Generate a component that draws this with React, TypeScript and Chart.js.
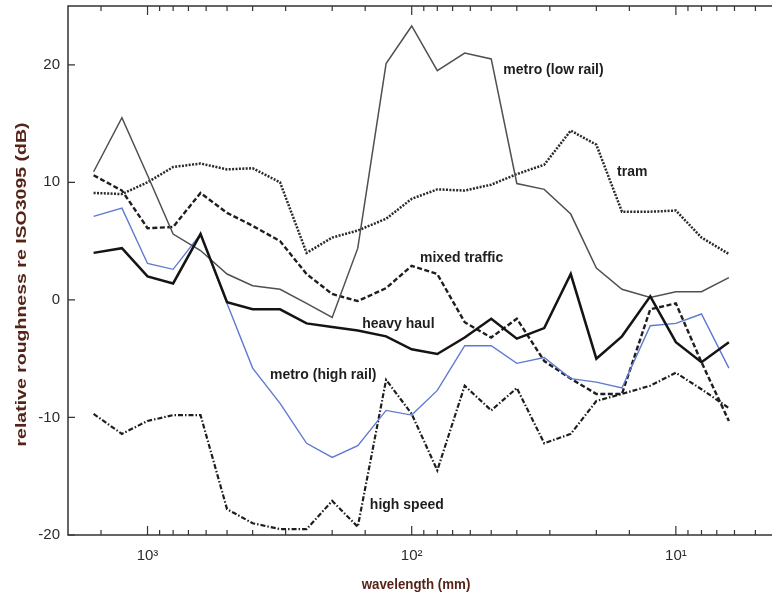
import React, { useEffect, useRef } from "react";
import { Chart, registerables } from "chart.js";

Chart.register(...registerables);

// One-third-octave wavelength bands (mm)
const wavelengths = [1600, 1250, 1000, 800, 630, 500, 400, 315, 250, 200, 160, 125, 100, 80, 63, 50, 40, 31.5, 25, 20, 16, 12.5, 10, 8, 6.3];

// Roughness level relative to ISO 3095 limit (dB), per band
const metroLowRail = [10.9, 15.5, 10.6, 5.6, 4.2, 2.2, 1.2, 0.9, -0.3, -1.5, 4.4, 20.1, 23.3, 19.5, 21.0, 20.5, 9.9, 9.4, 7.3, 2.7, 0.9, 0.2, 0.7, 0.7, 1.9];
const tram = [9.1, 9.0, 10.0, 11.3, 11.6, 11.1, 11.2, 10.0, 4.0, 5.3, 5.9, 6.9, 8.6, 9.4, 9.3, 9.8, 10.7, 11.5, 14.4, 13.2, 7.5, 7.5, 7.6, 5.3, 3.9];
const mixedTraffic = [10.6, 9.3, 6.1, 6.2, 9.1, 7.4, 6.3, 5.0, 2.2, 0.5, -0.1, 1.0, 2.9, 2.2, -1.9, -3.2, -1.6, -5.2, -6.7, -8.0, -8.0, -0.8, -0.3, -5.3, -10.3];
const heavyHaul = [4.0, 4.4, 2.0, 1.4, 5.6, -0.2, -0.8, -0.8, -2.0, -2.3, -2.6, -3.1, -4.2, -4.6, -3.2, -1.6, -3.3, -2.4, 2.2, -5.0, -3.1, 0.3, -3.6, -5.3, -3.6];
const metroHighRail = [7.1, 7.8, 3.1, 2.6, 5.6, -0.3, -5.8, -8.8, -12.2, -13.4, -12.4, -9.4, -9.8, -7.7, -3.9, -3.9, -5.4, -4.9, -6.7, -7.0, -7.5, -2.2, -2.0, -1.2, -5.8];
const highSpeed = [-9.7, -11.4, -10.3, -9.8, -9.8, -17.8, -19.0, -19.5, -19.5, -17.1, -19.3, -6.8, -9.7, -14.5, -7.3, -9.4, -7.5, -12.2, -11.4, -8.6, -8.0, -7.3, -6.2, -7.6, -9.2];

// Axis tick labels
const xTickValues = [1000, 100, 10];
const xTickLabels = ["10³", "10²", "10¹"];
const yTickStep = 10;

// In-plot series labels, anchored at (wavelength mm, dB)
const labelNames = ["metro (low rail)", "tram", "mixed traffic", "heavy haul", "metro (high rail)", "high speed"];
const labelWavelengths = [45, 16.7, 93, 154, 344, 144];
const labelLevels = [19.6, 10.9, 3.6, -2.05, -6.4, -17.4];

const X_TITLE = "wavelength (mm)";
const Y_TITLE = "relative roughness re ISO3095 (dB)";

const FONT = "'Liberation Sans', Arial, sans-serif";
const TITLE_COLOR = "#552418";
const TICK_COLOR = "#2b2b2b";

const toPoints = (ys: number[]) => wavelengths.map((w, i) => ({ x: w, y: ys[i] }));

const isPowerOfTen = (v: number) => {
  const l = Math.log10(v);
  return Math.abs(l - Math.round(l)) < 1e-6;
};

const frameAndLabels = {
  id: "frameAndLabels",
  afterDraw(chart: any) {
    const { ctx, chartArea: a, scales } = chart;
    const xs = scales.x;
    const ys = scales.y;
    ctx.save();

    // plot frame
    ctx.strokeStyle = "#333";
    ctx.lineWidth = 1.5;
    ctx.strokeRect(a.left, a.top, a.right - a.left, a.bottom - a.top);

    // inward tick marks
    ctx.lineWidth = 1.2;
    ctx.beginPath();
    xs.ticks.forEach((t: any) => {
      const px = xs.getPixelForValue(t.value);
      if (px <= a.left + 1 || px >= a.right - 1) return;
      const len = isPowerOfTen(t.value) ? 9 : 5;
      ctx.moveTo(px, a.bottom);
      ctx.lineTo(px, a.bottom - len);
      ctx.moveTo(px, a.top);
      ctx.lineTo(px, a.top + len);
    });
    ys.ticks.forEach((t: any) => {
      const py = ys.getPixelForValue(t.value);
      ctx.moveTo(a.left, py);
      ctx.lineTo(a.left + 7, py);
    });
    ctx.stroke();

    // series labels, slightly tall lettering
    ctx.fillStyle = "#1e1e1e";
    ctx.font = `bold 14px ${FONT}`;
    ctx.textAlign = "left";
    ctx.textBaseline = "middle";
    labelNames.forEach((name, i) => {
      ctx.save();
      ctx.translate(xs.getPixelForValue(labelWavelengths[i]), ys.getPixelForValue(labelLevels[i]));
      ctx.scale(1, 1.1);
      ctx.fillText(name, 0, 0);
      ctx.restore();
    });

    // x-axis title
    ctx.save();
    ctx.translate(416, 585);
    ctx.scale(1, 1.12);
    ctx.textAlign = "center";
    ctx.fillStyle = TITLE_COLOR;
    ctx.font = `bold 13.3px ${FONT}`;
    ctx.fillText(X_TITLE, 0, 0);
    ctx.restore();

    // y-axis title, drawn rotated and widened along its run
    ctx.translate(22, (a.top + a.bottom) / 2 + 14);
    ctx.rotate(-Math.PI / 2);
    ctx.scale(1.3, 1);
    ctx.textAlign = "center";
    ctx.fillStyle = TITLE_COLOR;
    ctx.font = `bold 15px ${FONT}`;
    ctx.fillText(Y_TITLE, 0, 0);

    ctx.restore();
  },
};

export default function App() {
  const ref = useRef<HTMLCanvasElement>(null);

  useEffect(() => {
    const canvas = ref.current;
    if (!canvas) return;
    const line = (label: string, ys: number[], color: string, width: number, dash: number[]) => ({
      label,
      data: toPoints(ys),
      borderColor: color,
      borderWidth: width,
      borderDash: dash,
      borderCapStyle: "butt",
      borderJoinStyle: "miter",
      pointRadius: 0,
      tension: 0,
      fill: false,
    });
    const chart = new Chart(canvas, {
      type: "line",
      data: {
        datasets: [
          line("heavy haul", heavyHaul, "#141414", 2.5, []),
          line("metro (low rail)", metroLowRail, "#505050", 1.5, []),
          line("metro (high rail)", metroHighRail, "#5f79cf", 1.4, []),
          line("tram", tram, "#2a2a2a", 2.5, [2, 1.4]),
          line("mixed traffic", mixedTraffic, "#1e1e1e", 2.4, [5, 2.5]),
          line("high speed", highSpeed, "#1e1e1e", 2.2, [5, 2, 1.5, 2]),
        ] as any,
      },
      options: {
        responsive: false,
        maintainAspectRatio: false,
        animation: false,
        layout: { padding: { top: 6, right: 9, bottom: 0, left: 0 } },
        plugins: { legend: { display: false }, tooltip: { enabled: false } },
        scales: {
          x: {
            type: "logarithmic",
            reverse: true,
            min: 4,
            max: 2000,
            grid: { display: false, drawTicks: false },
            border: { display: false },
            ticks: {
              autoSkip: false,
              maxRotation: 0,
              minRotation: 0,
              padding: 12,
              color: TICK_COLOR,
              font: { family: FONT, size: 15 },
              callback: (v: any) => {
                const idx = xTickValues.findIndex((t) => Math.abs(t - Number(v)) < 1e-6 * t);
                return idx >= 0 ? xTickLabels[idx] : "";
              },
            },
            afterFit: (s: any) => {
              s.height = 61;
              s.paddingLeft = 0;
              s.paddingRight = 0;
            },
          },
          y: {
            type: "linear",
            min: -20,
            max: 25,
            grid: { display: false, drawTicks: false },
            border: { display: false },
            ticks: {
              stepSize: yTickStep,
              includeBounds: false,
              padding: 8,
              color: TICK_COLOR,
              font: { family: FONT, size: 15 },
            },
            afterFit: (s: any) => {
              s.width = 68;
              s.paddingTop = 0;
              s.paddingBottom = 0;
            },
          },
        },
      } as any,
      plugins: [frameAndLabels],
    });
    return () => chart.destroy();
  }, []);

  return (
    <div style={{ position: "absolute", left: 0, top: 0, width: 772, height: 596, overflow: "hidden", background: "#fff" }}>
      <canvas ref={ref} width={790} height={596} style={{ display: "block" }} />
    </div>
  );
}
